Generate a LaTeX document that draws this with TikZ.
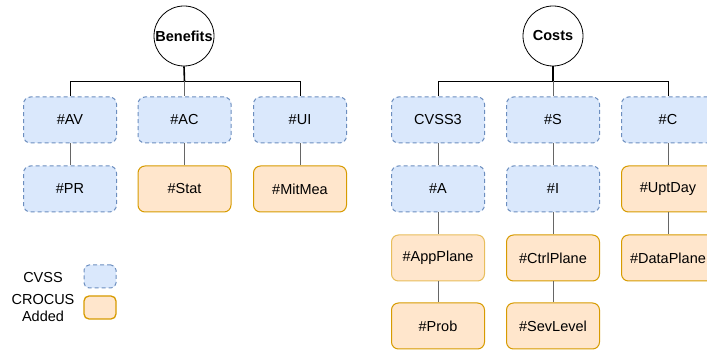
\documentclass[tikz,border=0pt]{standalone}
\usepackage{fontspec}
\setmainfont{Liberation Sans}
\definecolor{cvssfill}{HTML}{DAE8FC}
\definecolor{cvssline}{HTML}{6C8EBF}
\definecolor{crofill}{HTML}{FFE6CC}
\definecolor{croline}{HTML}{D79B00}
\definecolor{crolight}{HTML}{E8BE5C}
\definecolor{linkgray}{HTML}{666666}
\tikzset{
  x=1pt, y=-1pt,
  lbl/.style={font=\fontsize{14.5}{17}\selectfont},
  root/.style={circle, draw=black, line width=0.8pt, fill=white, minimum size=60pt, inner sep=0pt,
    font=\fontsize{14.5}{17}\selectfont\bfseries},
  cvssbox/.style={lbl, rectangle, rounded corners=7pt, draw=cvssline, fill=cvssfill, dashed,
    dash pattern=on 4pt off 3pt, line width=1pt, minimum width=93pt, minimum height=46pt, inner sep=0pt},
  crobox/.style={lbl, rectangle, rounded corners=7pt, draw=croline, fill=crofill,
    line width=1pt, minimum width=93pt, minimum height=46pt, inner sep=0pt},
  legcvss/.style={cvssbox, minimum width=32pt, minimum height=23pt, rounded corners=5pt},
  legcro/.style={crobox, minimum width=32pt, minimum height=23pt, rounded corners=5pt, line width=1.3pt},
  bus/.style={draw=black, line width=0.9pt},
  trunk/.style={draw=black, line width=1.6pt},
  link/.style={draw=linkgray, line width=1pt},
}
\begin{document}
\begin{tikzpicture}
\useasboundingbox (0,0) rectangle (707,352);

% ---- Benefits tree ----
\node[root] (ben) at (184,36) {Benefits};
\node[cvssbox] (av) at (70,120) {\#AV};
\node[cvssbox] (ac) at (184.5,120) {\#AC};
\node[cvssbox] (ui) at (300,120) {\#UI};
\node[cvssbox] (pr) at (70,189) {\#PR};
\node[crobox] (stat) at (184.5,189) {\#Stat};
\node[crobox] (mit) at (300,189) {\#MitMea};

\coordinate (bbus) at (184.5,81.5);
\draw[trunk] (ben.south) -- (bbus);
\draw[bus] (av.north) |- (bbus) -| (ui.north);
\draw[link] (bbus) -- (ac.north);
\draw[link] (av) -- (pr);
\draw[link] (ac) -- (stat);
\draw[link] (ui) -- (mit);

% ---- Costs tree ----
\node[root] (cost) at (553,36) {Costs};
\node[cvssbox] (cv3) at (438,120) {CVSS3};
\node[cvssbox] (s) at (553,120) {\#S};
\node[cvssbox] (c) at (668,120) {\#C};
\node[cvssbox] (a) at (438,189) {\#A};
\node[cvssbox] (i) at (553,189) {\#I};
\node[crobox] (upt) at (668,189) {\#UptDay};
\node[crobox, draw=crolight] (app) at (438,258) {\#AppPlane};
\node[crobox] (ctrl) at (553,258) {\#CtrlPlane};
\node[crobox] (data) at (668,258) {\#DataPlane};
\node[crobox] (prob) at (438,326) {\#Prob};
\node[crobox] (sev) at (553,326) {\#SevLevel};

\coordinate (cbus) at (553,81.5);
\draw[trunk] (cost.south) -- (cbus);
\draw[bus] (cv3.north) |- (cbus) -| (c.north);
\draw[link] (cbus) -- (s.north);
\draw[link] (cv3) -- (a);
\draw[link] (a) -- (app);
\draw[link] (app) -- (prob);
\draw[link] (s) -- (i);
\draw[link] (i) -- (ctrl);
\draw[link] (ctrl) -- (sev);
\draw[link] (c) -- (upt);
\draw[link] (upt) -- (data);

% ---- Legend ----
\node[lbl] (lcv) at (43,278) {CVSS};
\node[legcvss] (lcvbox) at (100,276.5) {};
\node[lbl, align=center, font=\fontsize{14.5}{17}\selectfont] (lcr) at (43,308) {CROCUS\\Added};
\node[legcro] (lcrbox) at (100,307.5) {};
\end{tikzpicture}
\end{document}
